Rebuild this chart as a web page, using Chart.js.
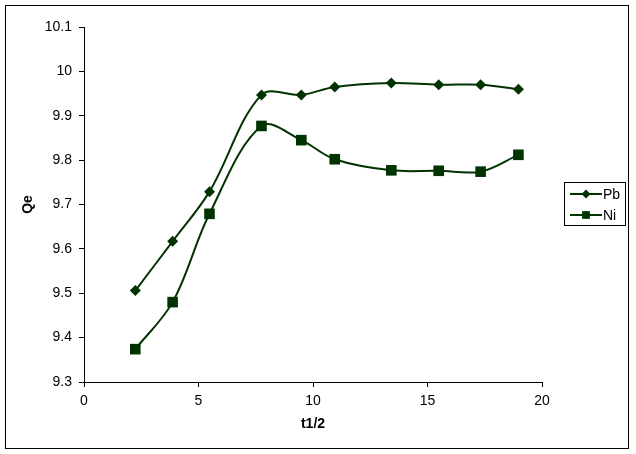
<!DOCTYPE html>
<html>
<head>
<meta charset="utf-8">
<script src="https://cdn.jsdelivr.net/npm/chart.js@4/dist/chart.umd.min.js"></script>
<style>
  html, body { margin: 0; padding: 0; background: #fff; }
  canvas { display: block; }
</style>
</head>
<body>
<canvas id="myChart" width="636" height="454"></canvas>
<script>
 // datos
 const tValues = [2.24, 3.87, 5.48, 7.75, 9.49, 10.95, 13.42, 15.49, 17.32, 18.97];
 const pbValues = [9.506, 9.617, 9.729, 9.947, 9.947, 9.965, 9.974, 9.970, 9.970, 9.960];
 const niValues = [9.374, 9.480, 9.679, 9.877, 9.845, 9.802, 9.777, 9.776, 9.774, 9.812];
 const seriesNames = ['Pb', 'Ni'];
 const xTitle = 't1/2';
 const yTitle = 'Qe';

 const green = '#003300';

 function toPoints(ys) {
     return tValues.map((x, i) => ({ x: x, y: ys[i] }));
 }

 Chart.defaults.font.family = "'Liberation Sans', Arial, sans-serif";
 Chart.defaults.font.size = 14;
 Chart.defaults.color = '#000';

 // marco exterior y leyenda estilo Excel
 const excelFrame = {
     id: 'excelFrame',
     afterDraw(chart) {
         const ctx = chart.ctx;
         ctx.save();
         ctx.strokeStyle = '#000';
         ctx.lineWidth = 1;
         ctx.strokeRect(5.5, 5.5, 623, 443);

         // leyenda
         ctx.strokeRect(564.5, 182.5, 61, 43);
         const rows = [194, 215];
         chart.data.datasets.forEach((ds, i) => {
             const y = rows[i];
             ctx.strokeStyle = ds.borderColor;
             ctx.lineWidth = 2;
             ctx.beginPath();
             ctx.moveTo(570, y);
             ctx.lineTo(602, y);
             ctx.stroke();
             ctx.fillStyle = ds.backgroundColor;
             Chart.helpers.drawPoint(ctx, {
                 pointStyle: ds.pointStyle,
                 radius: ds.pointStyle === 'rect' ? 5.5 : 4.5,
                 borderWidth: 0
             }, 586, y);
             ctx.fillStyle = '#000';
             ctx.font = "14px 'Liberation Sans', Arial, sans-serif";
             ctx.textBaseline = 'middle';
             ctx.textAlign = 'left';
             ctx.fillText(ds.label, 603, y + 1);
         });
         ctx.restore();
     }
 };

 new Chart("myChart", {
     type: "scatter",
     data: {
         datasets: [{
             label: seriesNames[0],
             data: toPoints(pbValues),
             showLine: true,
             borderColor: green,
             backgroundColor: green,
             borderWidth: 2,
             pointStyle: 'rectRot',
             pointRadius: 5.5,
             pointBorderWidth: 0,
             tension: 0.35
         }, {
             label: seriesNames[1],
             data: toPoints(niValues),
             showLine: true,
             borderColor: green,
             backgroundColor: green,
             borderWidth: 2,
             pointStyle: 'rect',
             pointRadius: 7.5,
             pointBorderWidth: 0,
             tension: 0.35
         }]
     },
     options: {
         responsive: false,
         animation: false,
         devicePixelRatio: 1,
         layout: { padding: { top: 27, right: 94, left: 0, bottom: 0 } },
         plugins: {
             legend: { display: false },
             tooltip: { enabled: false }
         },
         scales: {
             x: {
                 type: 'linear',
                 min: 0,
                 max: 20,
                 afterFit(scale) { scale.height = 72; },
                 ticks: { stepSize: 5, padding: 6, maxRotation: 0 },
                 grid: { drawOnChartArea: false, tickLength: 5, color: '#000' },
                 border: { color: '#000', width: 1 },
                 title: {
                     display: true,
                     text: xTitle,
                     font: { weight: 'bold', size: 14 },
                     padding: { top: 0, bottom: 21 }
                 }
             },
             y: {
                 min: 9.3,
                 max: 10.1,
                 afterFit(scale) { scale.width = 84; },
                 ticks: {
                     stepSize: 0.1,
                     padding: 7,
                     callback: v => String(Number(v.toFixed(1)))
                 },
                 grid: { drawOnChartArea: false, tickLength: 5, color: '#000' },
                 border: { color: '#000', width: 1 },
                 title: {
                     display: true,
                     text: yTitle,
                     font: { weight: 'bold', size: 14 },
                     padding: { top: 20, bottom: 0 }
                 }
             }
         }
     },
     plugins: [excelFrame]
 });
</script>
</body>
</html>
